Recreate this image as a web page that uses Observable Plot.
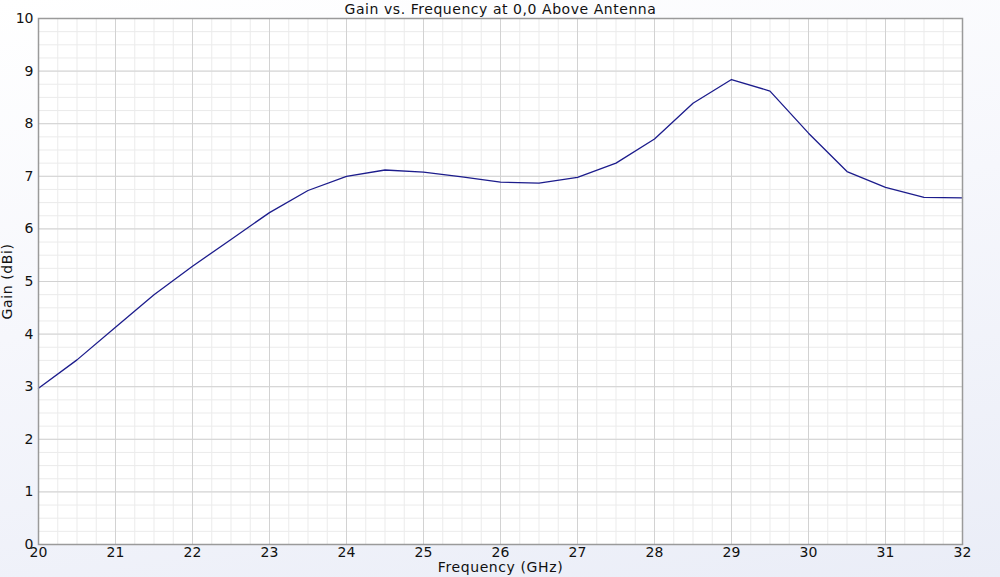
<!DOCTYPE html>
<html>
<head>
<meta charset="utf-8">
<script src="https://cdn.jsdelivr.net/npm/d3@7"></script>
<script src="https://cdn.jsdelivr.net/npm/@observablehq/plot@0.6"></script>
<style>
  html, body { margin: 0; padding: 0; }
  body {
    width: 1000px; height: 577px; overflow: hidden;
    background: linear-gradient(170deg, #ffffff 0%, #f6f7fc 45%, #eaedf7 100%);
    font-family: "DejaVu Sans", sans-serif;
  }
  #chart svg { display: block; }
</style>
</head>
<body>
<div id="chart"></div>
<script>
const title = "Gain vs. Frequency at 0,0 Above Antenna";
const xLabel = "Frequency (GHz)";
const yLabel = "Gain (dBi)";

const freq = [20, 20.5, 21, 21.5, 22, 22.5, 23, 23.5, 24, 24.5, 25, 25.5, 26, 26.5, 27, 27.5, 28, 28.5, 29, 29.5, 30, 30.5, 31, 31.5, 32];
const gain = [2.97, 3.51, 4.13, 4.75, 5.29, 5.80, 6.31, 6.73, 7.00, 7.12, 7.08, 6.99, 6.89, 6.87, 6.98, 7.25, 7.71, 8.39, 8.84, 8.62, 7.82, 7.09, 6.79, 6.60, 6.59];

const xTicks = [20, 21, 22, 23, 24, 25, 26, 27, 28, 29, 30, 31, 32];
const yTicks = [0, 1, 2, 3, 4, 5, 6, 7, 8, 9, 10];

const xMinor = d3.range(20, 32.001, 0.25);
const yMinor = d3.range(0, 10.001, 0.25);

const data = freq.map((f, i) => ({f, g: gain[i]}));

const chart = Plot.plot({
  width: 1000,
  height: 577,
  marginLeft: 38,
  marginRight: 38,
  marginTop: 18,
  marginBottom: 33,
  style: {background: "transparent", fontFamily: "DejaVu Sans, sans-serif", fontSize: "14px", color: "#111"},
  x: {domain: [20, 32], axis: null},
  y: {domain: [0, 10], axis: null},
  marks: [
    Plot.frame({fill: "white", stroke: null}),
    Plot.ruleX(xMinor, {stroke: "#ebebeb", strokeWidth: 1}),
    Plot.ruleY(yMinor, {stroke: "#ebebeb", strokeWidth: 1}),
    Plot.ruleX(xTicks, {stroke: "#d2d2d2", strokeWidth: 1}),
    Plot.ruleY(yTicks, {stroke: "#d2d2d2", strokeWidth: 1}),
    Plot.line(data, {x: "f", y: "g", stroke: "#1c1c8c", strokeWidth: 1.3}),
    Plot.frame({stroke: "#9a9a9a", strokeWidth: 1.5}),
    Plot.axisX(xTicks, {anchor: "bottom", tickSize: 0, tickPadding: 3, label: null, fontSize: 14, tickFormat: d => String(d)}),
    Plot.axisY(yTicks, {anchor: "left", tickSize: 0, tickPadding: 5, label: null, fontSize: 14, tickFormat: d => String(d)}),
    Plot.text([title], {frameAnchor: "top", lineAnchor: "middle", textAnchor: "middle", dy: -9, fontSize: 14, fill: "#111", text: d => d}),
    Plot.text([xLabel], {frameAnchor: "bottom", lineAnchor: "middle", textAnchor: "middle", dy: 23, fontSize: 14, fill: "#111", text: d => d}),
    Plot.text([yLabel], {frameAnchor: "left", lineAnchor: "middle", textAnchor: "middle", dx: -31, rotate: -90, fontSize: 14, fill: "#111", text: d => d})
  ]
});
document.getElementById("chart").appendChild(chart);
// slightly wider letter spacing for the title and axis labels, as in the reference
chart.querySelectorAll("text").forEach(t => {
  const s = t.textContent;
  if (s === title) t.setAttribute("letter-spacing", "0.55");
  if (s === xLabel || s === yLabel) t.setAttribute("letter-spacing", "0.6");
});
</script>
</body>
</html>
